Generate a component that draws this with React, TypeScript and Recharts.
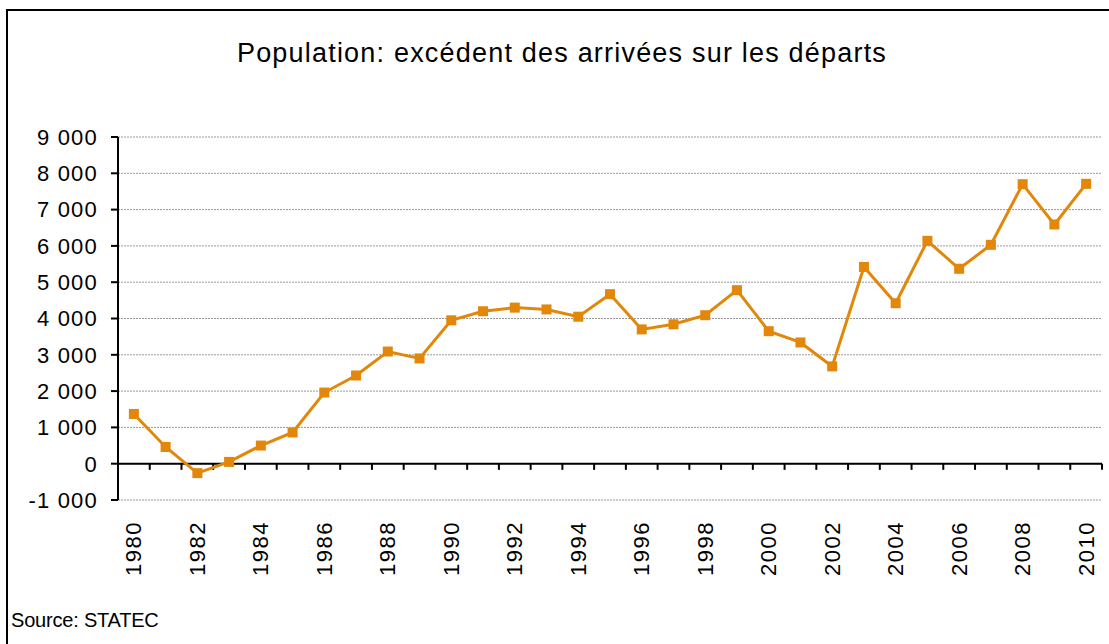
import { LineChart, Line, XAxis, YAxis, CartesianGrid, ReferenceLine } from 'recharts';

// Solde migratoire (arrivées - départs)
const years = [
  1980, 1981, 1982, 1983, 1984, 1985, 1986, 1987, 1988, 1989,
  1990, 1991, 1992, 1993, 1994, 1995, 1996, 1997, 1998, 1999,
  2000, 2001, 2002, 2003, 2004, 2005, 2006, 2007, 2008, 2009, 2010,
];
const excedent = [
  1370, 460, -260, 50, 500, 860, 1960, 2430, 3090, 2900,
  3950, 4200, 4300, 4250, 4050, 4670, 3700, 3840, 4090, 4780,
  3650, 3340, 2680, 5420, 4420, 6140, 5370, 6030, 7700, 6590, 7710,
];
const yTicks = [-1000, 0, 1000, 2000, 3000, 4000, 5000, 6000, 7000, 8000, 9000];
const yearLabels = years.filter((y) => y % 2 === 0);

const ORANGE = '#E2870A';
const FONT = '"Liberation Sans", Arial, sans-serif';

const data = years.map((year, i) => ({ year, value: excedent[i] }));

// category boundaries for the small tick marks on the zero line
const boundaries = [...years.map((y) => y - 0.5), years[years.length - 1] + 0.5];

const fmt = (v: number) => {
  const s = Math.abs(v).toString().replace(/\B(?=(\d{3})+(?!\d))/g, ' ');
  return v < 0 ? '-' + s : s;
};

function YearTick({ x, y, payload }: any) {
  return (
    <g transform={`translate(${x},${y})`}>
      <text
        transform="rotate(-90)"
        x={-13}
        y={0}
        textAnchor="end"
        dominantBaseline="central"
        fontFamily={FONT}
        fontSize={22}
        letterSpacing={1.5}
        fill="#000"
      >
        {payload.value}
      </text>
    </g>
  );
}

function SquareDot({ cx, cy, index }: any) {
  return <rect key={`dot-${index}`} x={cx - 5} y={cy - 5} width={10} height={10} fill={ORANGE} />;
}

export default function App() {
  return (
    <div
      style={{
        position: 'absolute',
        left: 0,
        top: 0,
        width: 1109,
        height: 644,
        overflow: 'hidden',
        background: '#fff',
      }}
    >
      {/* chart frame, cut off by the picture on the right and bottom */}
      <div
        style={{
          position: 'absolute',
          left: 6,
          top: 9,
          width: 1200,
          height: 700,
          border: '2px solid #000',
        }}
      />
      <div
        style={{
          position: 'absolute',
          left: 0,
          width: 1124,
          top: 38,
          textAlign: 'center',
          fontFamily: FONT,
          fontSize: 27,
          letterSpacing: 1.2,
          color: '#000',
        }}
      >
        Population: excédent des arrivées sur les départs
      </div>
      <div
        style={{
          position: 'absolute',
          left: 11,
          top: 609,
          fontFamily: FONT,
          fontSize: 20,
          letterSpacing: -0.2,
          color: '#000',
        }}
      >
        Source: STATEC
      </div>
      <div style={{ position: 'absolute', left: 0, top: 0 }}>
        <LineChart
          width={1109}
          height={644}
          data={data}
          margin={{ top: 137, right: 7, left: 0, bottom: 44 }}
        >
          <CartesianGrid vertical={false} stroke="#999" strokeDasharray="2 1" />
          <XAxis
            dataKey="year"
            type="number"
            domain={[1979.5, 2010.5]}
            ticks={yearLabels}
            interval={0}
            axisLine={false}
            tickLine={false}
            tick={<YearTick />}
            height={100}
          />
          <YAxis
            domain={[-1000, 9000]}
            ticks={yTicks}
            interval={0}
            width={118}
            tickFormatter={fmt}
            axisLine={{ stroke: '#000', strokeWidth: 2 }}
            tickLine={{ stroke: '#000', strokeWidth: 2 }}
            tickSize={7}
            tickMargin={13}
            tick={{ fill: '#000', fontFamily: FONT, fontSize: 22, letterSpacing: 1.2 }}
          />
          <ReferenceLine y={0} stroke="#000" strokeWidth={2} />
          {boundaries.map((b) => (
            <ReferenceLine
              key={b}
              segment={[
                { x: b, y: 0 },
                { x: b, y: -170 },
              ]}
              stroke="#000"
              strokeWidth={2}
            />
          ))}
          <Line
            type="linear"
            dataKey="value"
            stroke={ORANGE}
            strokeWidth={3}
            dot={<SquareDot />}
            activeDot={false}
            isAnimationActive={false}
          />
        </LineChart>
      </div>
    </div>
  );
}
